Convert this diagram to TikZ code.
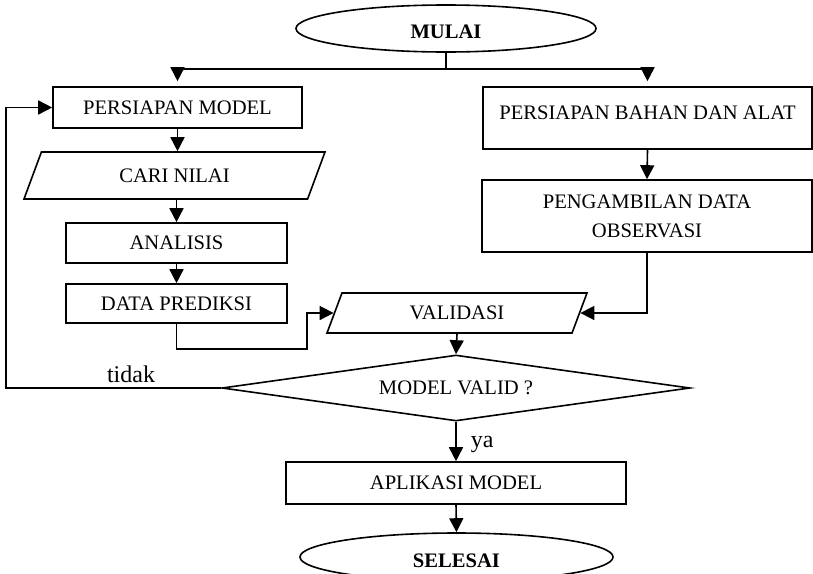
\documentclass[tikz,border=0pt]{standalone}
\usepackage{fontspec}
\setmainfont{Liberation Serif}
\usetikzlibrary{shapes.geometric,arrows.meta}

\begin{document}
\begin{tikzpicture}[x=0.5pt, y=-0.5pt, line width=0.8pt]
  \tikzset{
    proses/.style={draw, rectangle, align=center, inner sep=0pt,
      font=\fontsize{10.3}{14.5}\selectfont},
    io/.style={draw, trapezium, trapezium stretches body, inner sep=0pt,
      font=\fontsize{10.3}{14.5}\selectfont},
    keputusan/.style={draw, diamond, aspect=7.1, inner sep=0pt,
      font=\fontsize{10.3}{14.5}\selectfont},
    terminal/.style={draw, ellipse, inner sep=0pt, text height=10.5pt, text depth=0pt,
      font=\fontsize{10.3}{12}\selectfont\bfseries},
    catatan/.style={inner sep=0pt, font=\fontsize{12}{14}\selectfont},
    panah/.style={-{Triangle[length=7pt,width=7pt]}}
  }
  \useasboundingbox (0,0) rectangle (813,573);

  % start and the two branches
  \node[terminal, minimum width=150pt, minimum height=23.5pt] (mulai) at (446,28.5) {MULAI};
  \node[proses, minimum width=124.5pt, minimum height=20.5pt] (persiapanModel) at (177.5,107.5) {PERSIAPAN MODEL};
  \node[proses, minimum width=164.5pt, minimum height=31pt, text depth=5pt] (persiapanBahan) at (647.5,118) {PERSIAPAN BAHAN DAN ALAT};
  \node[io, minimum width=150.5pt, minimum height=23.5pt,
    trapezium left angle=38.5, trapezium right angle=141.5] (cariNilai) at (174.5,175.5) {CARI NILAI};
  \node[proses, minimum width=165pt, minimum height=36pt] (pengambilan) at (647,216) {PENGAMBILAN DATA\\OBSERVASI};
  \node[proses, minimum width=110.5pt, minimum height=20pt] (analisis) at (176.5,243) {ANALISIS};
  \node[proses, minimum width=110.5pt, minimum height=19.5pt] (prediksi) at (176.5,303.5) {DATA PREDIKSI};
  \node[io, minimum width=130pt, minimum height=20pt,
    trapezium left angle=43, trapezium right angle=137] (validasi) at (457,313) {VALIDASI};
  \node[keputusan, minimum width=234pt, minimum height=33pt] (valid) at (456,388) {MODEL VALID ?};
  \node[proses, minimum width=170pt, minimum height=21pt] (aplikasi) at (456,483) {APLIKASI MODEL};
  \node[terminal, minimum width=156.5pt, minimum height=24pt] (selesai) at (456.5,557) {SELESAI};

  % labels
  \node[catatan] (tidak) at (131,374) {tidak};
  \node[catatan, anchor=base west] (ya) at (470,447) {ya};

  \coordinate (cabang) at (446,69);
  \coordinate (belok) at (307,349);
  \coordinate (kiri) at (6,0);

  % connectors
  \draw (mulai.south) -- (cabang);
  \draw[panah, shorten >=2.5pt] (cabang) -| (persiapanModel.north);
  \draw[panah, shorten >=2.5pt] (cabang) -| (persiapanBahan.north);
  \draw[panah] (persiapanModel.south) -- (persiapanModel.south |- cariNilai.north);
  \draw[panah] (analisis.north |- cariNilai.south) -- (analisis.north);
  \draw[panah] (analisis.south) -- (prediksi.north);
  \draw[panah] (prediksi.south) |- (belok) |- (validasi.west);
  \draw[panah] (persiapanBahan.south) -- (pengambilan.north);
  \draw[panah] (pengambilan.south) |- (validasi.east);
  \draw[panah] (validasi.south) -- (valid.north);
  \draw[panah] (valid.west) -- (valid.west -| kiri) |- (persiapanModel.west);
  \draw[panah] (valid.south) -- (aplikasi.north);
  \draw[panah] (aplikasi.south) -- (selesai.north);
\end{tikzpicture}
\end{document}
